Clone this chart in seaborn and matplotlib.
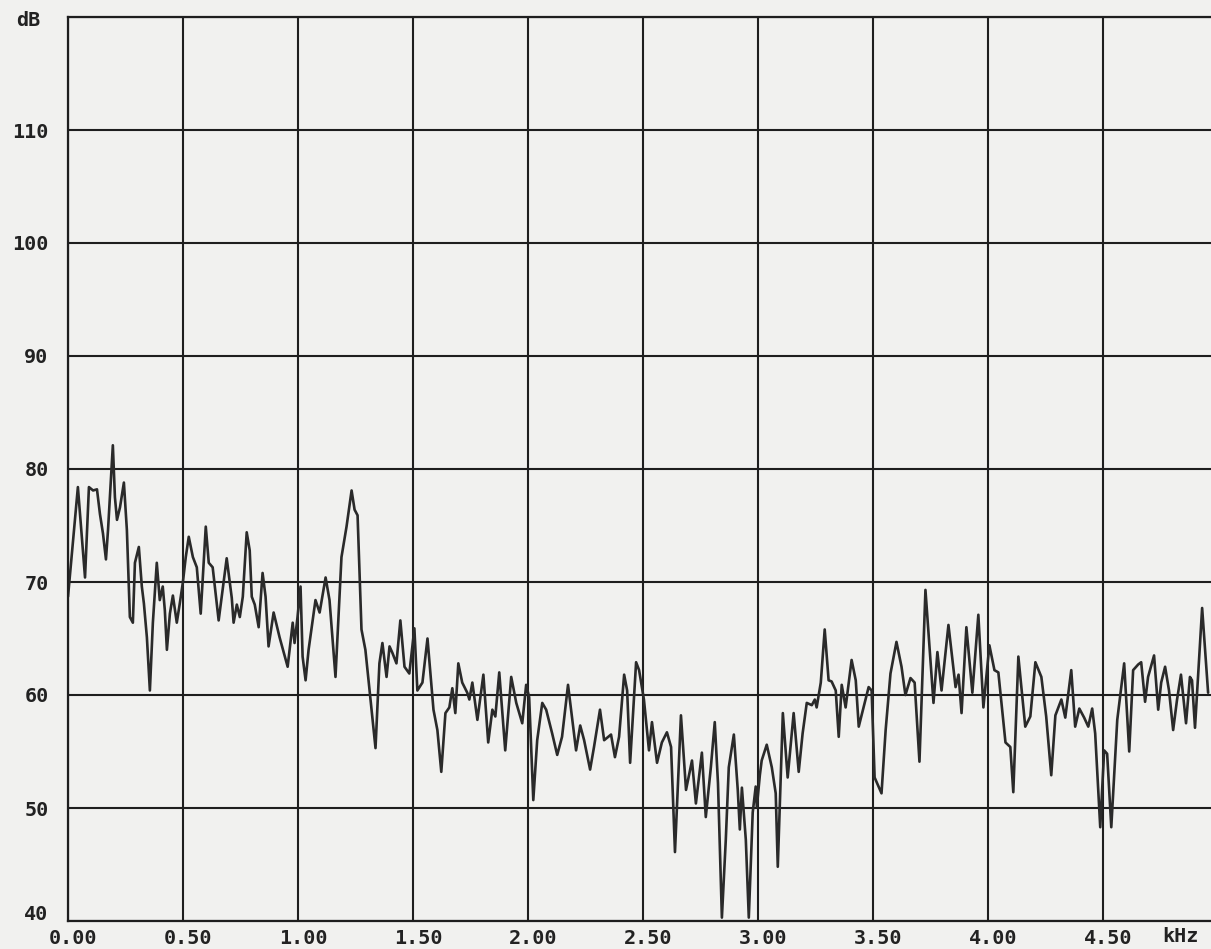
import matplotlib
matplotlib.use("Agg")
import matplotlib.pyplot as plt
import matplotlib.transforms as mtransforms
import seaborn as sns
import pandas as pd

# ---- data ----
freq_khz = [
    0.000, 0.043, 0.074, 0.091, 0.109, 0.126, 0.139, 0.152, 0.165, 0.174,
    0.195, 0.204, 0.213, 0.226, 0.243, 0.256, 0.269, 0.282, 0.291, 0.308,
    0.321, 0.330, 0.343, 0.356, 0.369, 0.386, 0.399, 0.412, 0.421, 0.430,
    0.443, 0.456, 0.473, 0.486, 0.499, 0.512, 0.525, 0.543, 0.560, 0.577,
    0.599, 0.612, 0.629, 0.655, 0.690, 0.712, 0.720, 0.734, 0.747, 0.760,
    0.777, 0.790, 0.799, 0.812, 0.829, 0.846, 0.859, 0.872, 0.894, 0.920,
    0.955, 0.977, 0.985, 0.998, 1.011, 1.020, 1.033, 1.046, 1.076, 1.094,
    1.120, 1.137, 1.163, 1.189, 1.211, 1.233, 1.246, 1.259, 1.276, 1.293,
    1.319, 1.337, 1.354, 1.367, 1.385, 1.398, 1.411, 1.428, 1.445, 1.463,
    1.484, 1.506, 1.519, 1.541, 1.563, 1.589, 1.606, 1.623, 1.641, 1.658,
    1.671, 1.684, 1.697, 1.714, 1.736, 1.745, 1.758, 1.780, 1.806, 1.827,
    1.845, 1.858, 1.875, 1.901, 1.927, 1.949, 1.975, 1.992, 2.005, 2.023,
    2.040, 2.062, 2.079, 2.105, 2.127, 2.148, 2.174, 2.209, 2.227, 2.244,
    2.270, 2.287, 2.313, 2.331, 2.361, 2.378, 2.396, 2.418, 2.431, 2.444,
    2.470, 2.483, 2.504, 2.526, 2.539, 2.561, 2.582, 2.604, 2.622, 2.639,
    2.665, 2.687, 2.713, 2.730, 2.756, 2.773, 2.795, 2.812, 2.826, 2.843,
    2.860, 2.873, 2.895, 2.912, 2.921, 2.930, 2.947, 2.960, 2.977, 2.990,
    2.995, 3.008, 3.016, 3.038, 3.060, 3.077, 3.086, 3.108, 3.129, 3.155,
    3.177, 3.194, 3.212, 3.234, 3.247, 3.255, 3.273, 3.290, 3.307, 3.320,
    3.338, 3.351, 3.364, 3.381, 3.407, 3.425, 3.438, 3.459, 3.481, 3.494,
    3.507, 3.537, 3.555, 3.576, 3.602, 3.624, 3.641, 3.663, 3.681, 3.702,
    3.728, 3.750, 3.763, 3.780, 3.798, 3.828, 3.859, 3.872, 3.885, 3.906,
    3.932, 3.958, 3.980, 4.006, 4.028, 4.045, 4.076, 4.097, 4.110, 4.132,
    4.162, 4.184, 4.206, 4.232, 4.253, 4.275, 4.293, 4.319, 4.336, 4.362,
    4.379, 4.397, 4.418, 4.436, 4.453, 4.466, 4.488, 4.505, 4.518, 4.536,
    4.562, 4.592, 4.614, 4.631, 4.653, 4.666, 4.683, 4.696, 4.722, 4.740,
    4.753, 4.770, 4.787, 4.805, 4.822, 4.839, 4.861, 4.878, 4.887, 4.900,
    4.931, 4.957,
]
level_db = [
    68.7, 78.4, 70.4, 78.4, 78.1, 78.2, 76.0, 74.3, 72.0, 74.6,
    82.1, 77.5, 75.5, 76.6, 78.8, 74.6, 66.9, 66.4, 71.7, 73.1,
    69.6, 68.1, 65.1, 60.4, 66.4, 71.7, 68.4, 69.6, 67.5, 64.0,
    67.2, 68.8, 66.4, 68.1, 69.9, 72.2, 74.0, 72.2, 71.3, 67.2,
    74.9, 71.7, 71.3, 66.6, 72.1, 68.6, 66.4, 68.0, 66.9, 68.7,
    74.4, 72.8, 68.7, 68.0, 66.0, 70.8, 68.7, 64.3, 67.3, 65.1,
    62.5, 66.4, 64.6, 66.9, 69.6, 63.4, 61.3, 64.0, 68.4, 67.3,
    70.4, 68.4, 61.6, 72.2, 74.9, 78.1, 76.4, 75.9, 65.8, 64.0,
    58.9, 55.3, 62.8, 64.6, 61.6, 64.3, 63.7, 62.8, 66.6, 62.5,
    61.9, 65.9, 60.4, 61.1, 65.0, 58.7, 56.9, 53.2, 58.4, 58.9,
    60.6, 58.4, 62.8, 61.1, 60.2, 59.6, 61.1, 57.8, 61.8, 55.8,
    58.7, 58.1, 62.0, 55.1, 61.6, 59.3, 57.5, 60.9, 59.8, 50.7,
    56.0, 59.3, 58.7, 56.6, 54.7, 56.3, 60.9, 55.1, 57.3, 56.0,
    53.4, 55.4, 58.7, 56.0, 56.5, 54.5, 56.3, 61.8, 60.4, 54.0,
    62.9, 62.2, 59.6, 55.1, 57.6, 54.0, 55.8, 56.7, 55.4, 46.1,
    58.2, 51.6, 54.2, 50.4, 54.9, 49.2, 53.6, 57.6, 52.2, 40.3,
    47.2, 53.6, 56.5, 51.6, 48.1, 51.8, 47.2, 40.3, 49.6, 51.9,
    50.1, 52.9, 54.2, 55.6, 53.6, 51.3, 44.8, 58.4, 52.7, 58.4,
    53.2, 56.6, 59.3, 59.1, 59.6, 58.9, 61.1, 65.8, 61.3, 61.2,
    60.4, 56.3, 60.9, 58.9, 63.1, 61.3, 57.2, 58.9, 60.7, 60.4,
    52.7, 51.3, 56.9, 61.9, 64.7, 62.5, 60.0, 61.5, 61.1, 54.1,
    69.3, 63.1, 59.3, 63.8, 60.4, 66.2, 60.7, 61.8, 58.4, 66.0,
    60.2, 67.1, 58.9, 64.4, 62.2, 62.0, 55.8, 55.4, 51.4, 63.4,
    57.2, 58.1, 62.9, 61.6, 58.1, 52.9, 58.2, 59.6, 58.0, 62.2,
    57.2, 58.8, 58.0, 57.2, 58.8, 56.6, 48.3, 55.1, 54.8, 48.3,
    57.8, 62.8, 55.0, 62.2, 62.7, 62.9, 59.4, 61.6, 63.5, 58.7,
    61.1, 62.5, 60.4, 56.9, 59.6, 61.8, 57.5, 61.6, 61.3, 57.1,
    67.7, 60.2,
]
x_ticks = [0.0, 0.5, 1.0, 1.5, 2.0, 2.5, 3.0, 3.5, 4.0, 4.5]
x_tick_labels = ["0.00", "0.50", "1.00", "1.50", "2.00", "2.50", "3.00", "3.50", "4.00", "4.50"]
y_ticks = [40, 50, 60, 70, 80, 90, 100, 110]
y_tick_labels = ["40", "50", "60", "70", "80", "90", "100", "110"]
x_unit = "kHz"
y_unit = "dB"

df = pd.DataFrame({"freq": freq_khz, "db": level_db})

sns.set_theme(style="white")
plt.rcParams["font.family"] = ["DejaVu Sans Mono", "DejaVu Sans"]

paper = "#f1f1ef"
ink = "#1e1e1e"

fig = plt.figure(figsize=(12.11, 9.49), dpi=100, facecolor=paper)
W, H = 1211, 949
x0, x5 = 68, 1218
ytop, ybot = 17, 921
ax = fig.add_axes([x0 / W, 1 - ybot / H, (x5 - x0) / W, (ybot - ytop) / H])
ax.set_facecolor(paper)

sns.lineplot(data=df, x="freq", y="db", ax=ax, color="#2a2a2a",
             linewidth=1.9, estimator=None, sort=False)

ax.set_xlim(0, 5.0)
ax.set_ylim(40, 120)
ax.set_xticks(x_ticks)
ax.set_xticklabels(x_tick_labels)
ax.set_yticks(y_ticks + [120])
ax.set_yticklabels(y_tick_labels + [""])
ax.set_xlabel("")
ax.set_ylabel("")

ax.grid(True, color=ink, linewidth=1.5)
ax.set_axisbelow(True)
for side in ["left", "top", "bottom"]:
    ax.spines[side].set_visible(True)
    ax.spines[side].set_color(ink)
    ax.spines[side].set_linewidth(1.6)
ax.spines["right"].set_visible(False)

ax.tick_params(axis="both", length=0, labelsize=14.5, labelcolor="#222222")
ax.tick_params(axis="x", pad=6)
ax.tick_params(axis="y", pad=14)
for lab in ax.get_xticklabels():
    lab.set_fontweight("bold")
    lab.set_transform(lab.get_transform() + mtransforms.ScaledTranslation(5 / 100, 0, fig.dpi_scale_trans))
for lab in ax.get_yticklabels():
    lab.set_fontweight("bold")
ylabs = ax.get_yticklabels()
ylabs[0].set_transform(ylabs[0].get_transform() + mtransforms.ScaledTranslation(0, 8 / 100, fig.dpi_scale_trans))

fig.text(1180 / W, 1 - 937 / H, x_unit, ha="center", va="center",
         fontsize=14.5, fontweight="bold", color="#222222")
fig.text(28 / W, 1 - 21 / H, y_unit, ha="center", va="center",
         fontsize=14.5, fontweight="bold", color="#222222")

fig.savefig("out.png", dpi=100, facecolor=paper)
